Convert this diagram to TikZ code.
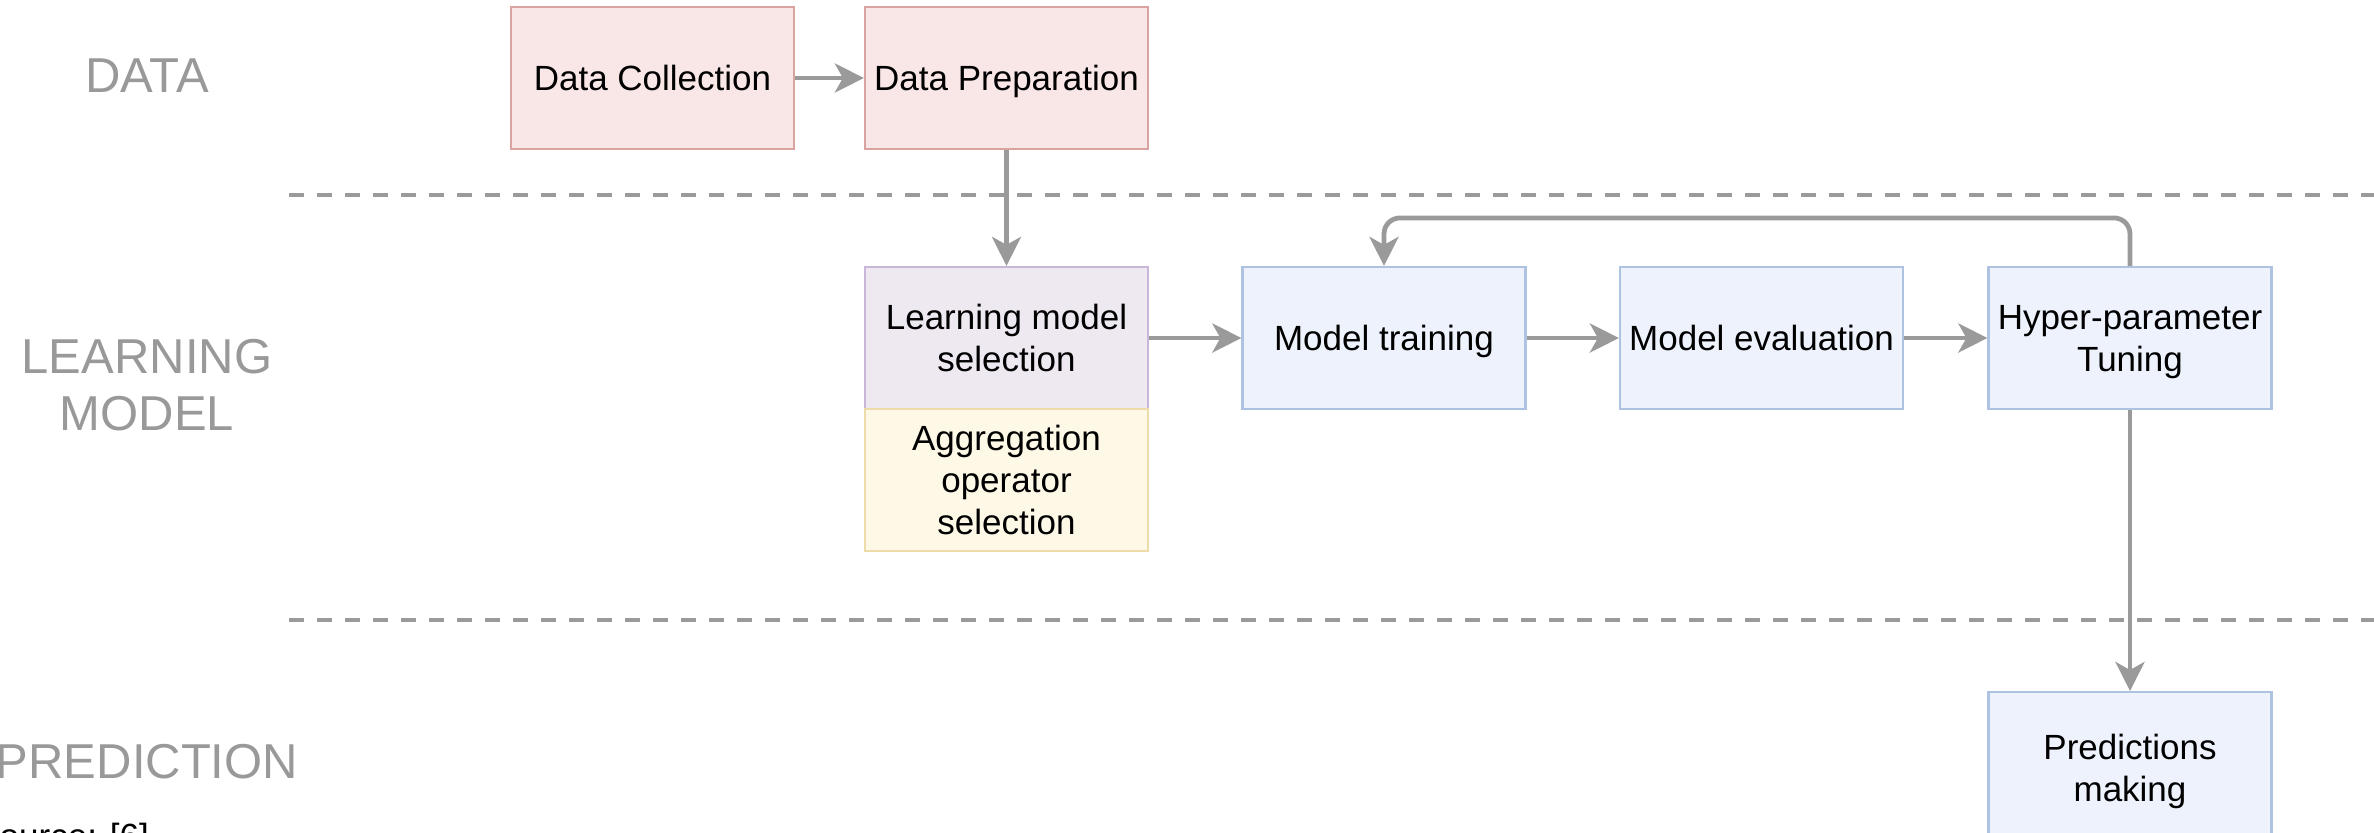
\documentclass[tikz,border=0pt]{standalone}
\usepackage{fontspec}
\setmainfont{Liberation Sans}
\usetikzlibrary{arrows.meta}

\definecolor{lineg}{HTML}{9A9A9A}
\definecolor{lanetxt}{HTML}{999999}
\definecolor{redfill}{HTML}{F9E6E6}
\definecolor{reddraw}{HTML}{D9A3A2}
\definecolor{bluefill}{HTML}{EDF2FC}
\definecolor{bluedraw}{HTML}{AEC3E2}
\definecolor{purplefill}{HTML}{EEE8F1}
\definecolor{purpledraw}{HTML}{C8B7D8}
\definecolor{yellowfill}{HTML}{FEF8E7}
\definecolor{yellowdraw}{HTML}{EDDCA8}

\newcommand{\nodesc}[1]{\raisebox{0pt}[\height][0pt]{#1}}

\tikzset{
  box/.style={draw, line width=1.1pt, minimum width=141.5pt, minimum height=71pt,
    inner sep=0pt, align=center, font=\fontsize{17.5}{21}\selectfont},
  oneline/.style={text height=15.8pt, text depth=3.7pt},
  redbox/.style={box, fill=redfill, draw=reddraw},
  bluebox/.style={box, fill=bluefill, draw=bluedraw},
  purplebox/.style={box, fill=purplefill, draw=purpledraw},
  yellowbox/.style={box, fill=yellowfill, draw=yellowdraw},
  flow/.style={draw=lineg, line width=2.4pt,
    -{Stealth[length=14.5pt, width=14.5pt, inset=4pt]}},
  lanesep/.style={draw=lineg, line width=2pt, dash pattern=on 7.5pt off 6.5pt},
  lane/.style={text=lanetxt, align=center, inner sep=0pt,
    font=\fontsize{24.5}{28.5}\selectfont},
}

\begin{document}
\begin{tikzpicture}[x=0.5pt, y=-0.5pt]
  \useasboundingbox (0,0) rectangle (2374,832);

  % lane separators
  \coordinate (sepA1) at (289,195);
  \coordinate (sepA2) at (2380,195);
  \coordinate (sepB1) at (289,620);
  \coordinate (sepB2) at (2380,620);
  \draw[lanesep] (sepA1) -- (sepA2);
  \draw[lanesep] (sepB1) -- (sepB2);

  % lane titles
  \node[lane] (lData) at (147,76) {DATA};
  \node[lane] (lModel) at (147,385) {LEARNING\\MODEL};
  \node[lane] (lPred) at (147,762) {PREDICTION};

  % data stage
  \node[redbox, oneline] (dc) at (652.5,78) {Data Collection};
  \node[redbox, oneline] (dp) at (1006.5,78) {Data Preparation};

  % learning model stage
  \node[purplebox] (lms) at (1006.5,338) {Learning model\\selection};
  \node[yellowbox] (agg) at (1006.5,480) {Aggregation\\operator\\selection};
  \node[bluebox, oneline] (mt) at (1384,338) {Model training};
  \node[bluebox, oneline] (me) at (1761.5,338) {Model evaluation};
  \node[bluebox] (hp) at (2130,338) {Hyper-parameter\\\nodesc{Tuning}};

  % prediction stage (runs past the lower edge)
  \node[bluebox, minimum height=79pt, anchor=north] (pm) at (2130,691)
    {Predictions\\making};

  % connectors
  \draw[flow] (dc) -- (dp);
  \draw[flow] (dp) -- (lms);
  \draw[flow] (lms) -- (mt);
  \draw[flow] (mt) -- (me);
  \draw[flow] (me) -- (hp);
  \draw[flow, rounded corners=8pt] (hp.north) -- ++(0,-48) -| (mt.north);
  \draw[flow] (hp) -- (pm);

  % source note
  \node[anchor=base west, inner sep=0pt, font=\fontsize{17.5}{21}\selectfont]
    (src) at (-24,848) {Source: [6]};
\end{tikzpicture}
\end{document}
